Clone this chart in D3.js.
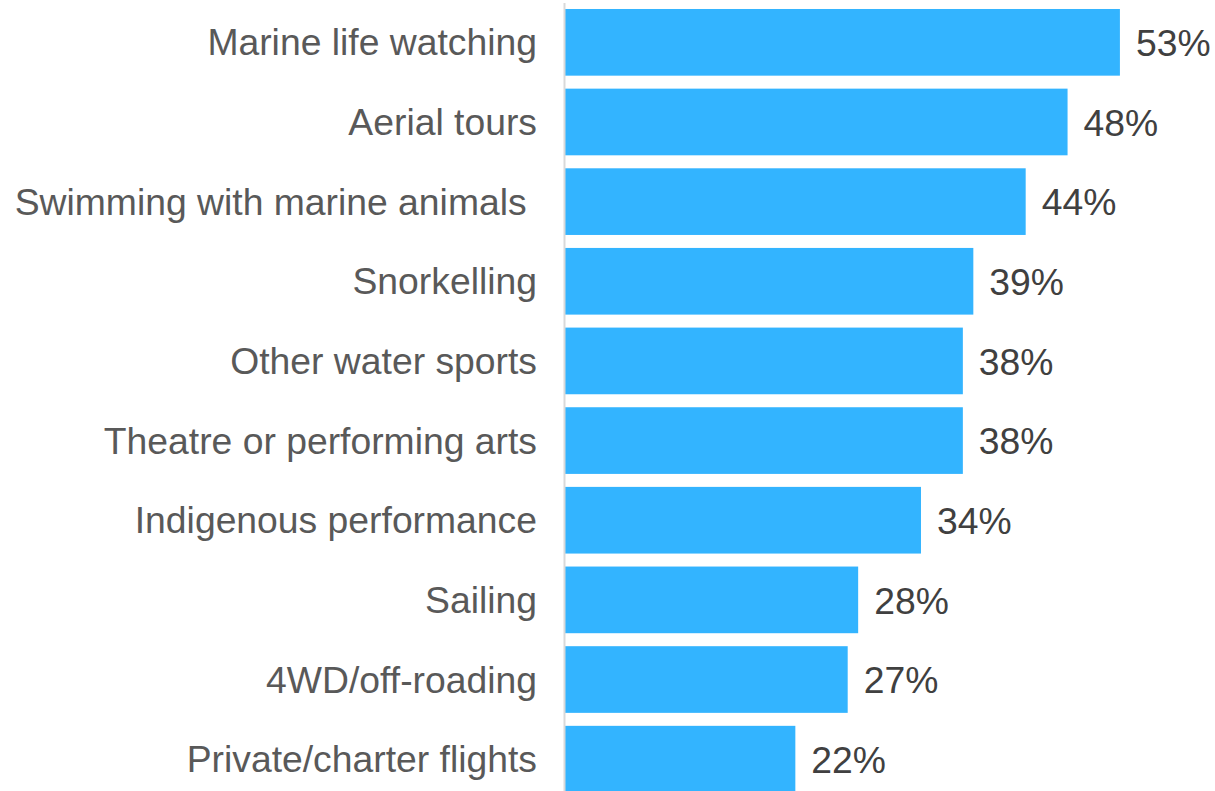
<!DOCTYPE html>
<html>
<head>
<meta charset="utf-8">
<script src="https://cdn.jsdelivr.net/npm/d3@7"></script>
<style>
  html, body { margin: 0; padding: 0; background: #ffffff; }
  svg { display: block; }
</style>
</head>
<body>
<svg id="chart" width="1215" height="791"></svg>
<script>
// Share of visitors interested in each experience (%)
const categories = [
  "Marine life watching",
  "Aerial tours",
  "Swimming with marine animals ",
  "Snorkelling",
  "Other water sports",
  "Theatre or performing arts",
  "Indigenous performance",
  "Sailing",
  "4WD/off-roading",
  "Private/charter flights"
];
const values = [53, 48, 44, 39, 38, 38, 34, 28, 27, 22];

const data = categories.map((c, i) => ({ key: i, label: c, value: values[i] }));

const svg = d3.select("#chart");
const originX = 565;
const fontSize = 37.3;

const x = d3.scaleLinear().domain([0, 100]).range([originX, originX + 1047]);
const y = d3.scaleBand()
  .domain(data.map(d => d.key))
  .range([2.5, 799])
  .paddingInner(0.163)
  .paddingOuter(0.0815);

// Bars
svg.append("g").selectAll("rect")
  .data(data)
  .join("rect")
  .attr("x", x(0))
  .attr("y", d => y(d.key))
  .attr("width", d => x(d.value) - x(0))
  .attr("height", y.bandwidth())
  .attr("fill", "#33B4FF");

// Category axis
const axis = d3.axisLeft(y)
  .tickSize(0)
  .tickSizeOuter(0)
  .tickPadding(27)
  .tickFormat(k => categories[k]);

const g = svg.append("g")
  .attr("transform", `translate(${originX - 1},0)`)
  .call(axis);

g.select(".domain")
  .attr("stroke", "#d9d9d9")
  .attr("stroke-width", 2);

g.selectAll(".tick text")
  .attr("fill", "#595959")
  .attr("font-family", "'Liberation Sans', Arial, sans-serif")
  .attr("font-size", fontSize)
  .attr("dy", "0.35em")
  .style("white-space", "pre");

// Value labels
svg.append("g").selectAll("text")
  .data(data)
  .join("text")
  .attr("x", d => x(d.value) + 16)
  .attr("y", d => y(d.key) + y.bandwidth() / 2)
  .attr("dy", "0.37em")
  .attr("fill", "#404040")
  .attr("font-family", "'Liberation Sans', Arial, sans-serif")
  .attr("font-size", fontSize)
  .text(d => d.value + "%");
</script>
</body>
</html>
